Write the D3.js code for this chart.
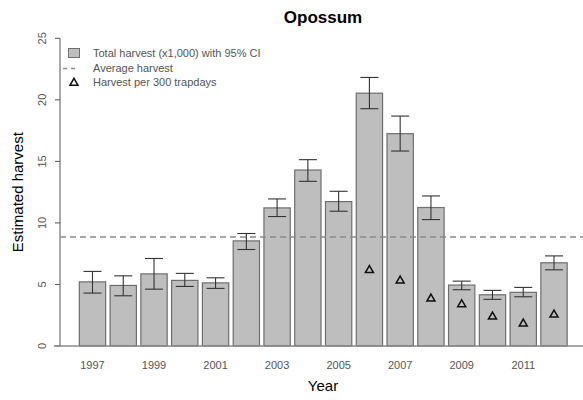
<!DOCTYPE html>
<html lang="en-US">
<head>
<meta charset="UTF-8">
<title>Opossum</title>
<script src="https://d3js.org/d3.v7.min.js"></script>
<style>
  body { margin: 0; background: #fff; }
  text { font-family: "Liberation Sans", Arial, Helvetica, sans-serif; }
  .bar { fill: #bebebe; stroke: #6e6e6e; stroke-width: 1.2px; }
  .err { stroke: #333; stroke-width: 1.1px; fill: none; }
  .avg { stroke: #8a8a8a; stroke-width: 1.5px; stroke-dasharray: 6,4; fill: none; }
  .tri { fill: none; stroke: #111; stroke-width: 1.5px; }
  .tick-lab { fill: #555; font-size: 11px; }
</style>
</head>
<body>
<script>

// data
var years   = [1997,1998,1999,2000,2001,2002,2003,2004,2005,2006,2007,2008,2009,2010,2011,2012];
var harvest = [5.21,4.92,5.86,5.33,5.13,8.54,11.22,14.30,11.73,20.54,17.25,11.25,4.95,4.16,4.36,6.76];
var ciLow   = [4.30,4.08,4.62,4.84,4.68,7.84,10.52,13.38,10.95,19.28,15.84,10.27,4.57,3.79,4.00,6.19];
var ciHigh  = [6.06,5.70,7.11,5.90,5.54,9.14,11.95,15.14,12.57,21.82,18.68,12.19,5.27,4.52,4.76,7.32];
var trapYears = [2006,2007,2008,2009,2010,2011,2012];
var perTrap   = [6.16,5.30,3.84,3.38,2.38,1.81,2.54];
var avgHarvest = 8.85;
var yTicks = [0,5,10,15,20,25];
var xLabels = [1997,1999,2001,2003,2005,2007,2009,2011];

var width = 583, height = 400;
var plotLeft = 60, plotRight = 586, plotTop = 38.3, plotBottom = 346;

var x = d3.scaleBand()
    .domain(years)
    .range([77.1, 569.4])
    .paddingInner(0.145)
    .paddingOuter(0.0725);

var y = d3.scaleLinear()
    .domain([0, 25])
    .range([plotBottom, plotTop]);

var svg = d3.select("body").append("svg")
    .attr("width", width)
    .attr("height", height);

// title
svg.append("text")
    .attr("x", (plotLeft + plotRight) / 2)
    .attr("y", 23)
    .attr("text-anchor", "middle")
    .style("font-weight", "bold")
    .style("font-size", "17px")
    .text("Opossum");

// y axis
var ya = svg.append("g").attr("transform", "translate(" + plotLeft + ",0)");
ya.append("line")
    .attr("y1", y(0)).attr("y2", y(25))
    .attr("stroke", "#555");
ya.selectAll(".yt").data(yTicks).enter().append("line")
    .attr("x1", -5).attr("x2", 0)
    .attr("y1", function(d) { return y(d); })
    .attr("y2", function(d) { return y(d); })
    .attr("stroke", "#555");
ya.selectAll(".yl").data(yTicks).enter().append("text")
    .attr("class", "tick-lab")
    .attr("transform", function(d) { return "translate(-14," + y(d) + ") rotate(-90)"; })
    .attr("text-anchor", "middle")
    .text(function(d) { return d; });

svg.append("text")
    .attr("transform", "translate(23," + ((plotTop + plotBottom) / 2) + ") rotate(-90)")
    .attr("text-anchor", "middle")
    .style("font-size", "15px")
    .text("Estimated harvest");

// bars
svg.selectAll(".bar").data(years).enter().append("rect")
    .attr("class", "bar")
    .attr("x", function(d) { return x(d); })
    .attr("width", x.bandwidth())
    .attr("y", function(d, i) { return y(harvest[i]); })
    .attr("height", function(d, i) { return y(0) - y(harvest[i]); });

// baseline
svg.append("line")
    .attr("x1", 54).attr("x2", width)
    .attr("y1", y(0)).attr("y2", y(0))
    .attr("stroke", "#888").attr("stroke-width", 1.3);

// average line
svg.append("line")
    .attr("class", "avg")
    .attr("x1", plotLeft).attr("x2", width)
    .attr("y1", y(avgHarvest)).attr("y2", y(avgHarvest));

// error bars
var cap = 9;
var eb = svg.selectAll(".eb").data(years).enter().append("g");
eb.append("line").attr("class", "err")
    .attr("x1", function(d) { return x(d) + x.bandwidth() / 2; })
    .attr("x2", function(d) { return x(d) + x.bandwidth() / 2; })
    .attr("y1", function(d, i) { return y(ciLow[i]); })
    .attr("y2", function(d, i) { return y(ciHigh[i]); });
eb.append("line").attr("class", "err")
    .attr("x1", function(d) { return x(d) + x.bandwidth() / 2 - cap; })
    .attr("x2", function(d) { return x(d) + x.bandwidth() / 2 + cap; })
    .attr("y1", function(d, i) { return y(ciLow[i]); })
    .attr("y2", function(d, i) { return y(ciLow[i]); });
eb.append("line").attr("class", "err")
    .attr("x1", function(d) { return x(d) + x.bandwidth() / 2 - cap; })
    .attr("x2", function(d) { return x(d) + x.bandwidth() / 2 + cap; })
    .attr("y1", function(d, i) { return y(ciHigh[i]); })
    .attr("y2", function(d, i) { return y(ciHigh[i]); });

// harvest per trapdays
var tri = d3.symbol().type(d3.symbolTriangle).size(28);
svg.selectAll(".tri").data(trapYears).enter().append("path")
    .attr("class", "tri")
    .attr("d", tri)
    .attr("transform", function(d, i) {
        return "translate(" + (x(d) + x.bandwidth() / 2) + "," + y(perTrap[i]) + ")";
    });

// x labels
svg.selectAll(".xl").data(xLabels).enter().append("text")
    .attr("class", "tick-lab")
    .attr("x", function(d) { return x(d) + x.bandwidth() / 2; })
    .attr("y", 369)
    .attr("text-anchor", "middle")
    .text(function(d) { return d; });

svg.append("text")
    .attr("x", (plotLeft + plotRight) / 2)
    .attr("y", 391)
    .attr("text-anchor", "middle")
    .style("font-size", "15px")
    .text("Year");

// legend
var lg = svg.append("g");
lg.append("rect")
    .attr("x", 68.5).attr("y", 48.5).attr("width", 11).attr("height", 9)
    .attr("fill", "#bebebe").attr("stroke", "#6e6e6e");
lg.append("line").attr("class", "avg")
    .attr("x1", 63).attr("x2", 79).attr("y1", 68.5).attr("y2", 68.5)
    .style("stroke-dasharray", "4,4");
lg.append("path").attr("class", "tri").attr("d", tri)
    .attr("transform", "translate(74,83)");
var legendText = ["Total harvest (x1,000) with 95% CI", "Average harvest", "Harvest per 300 trapdays"];
lg.selectAll(".lt").data(legendText).enter().append("text")
    .attr("x", 93)
    .attr("y", function(d, i) { return 57 + i * 14.5; })
    .style("font-size", "11px")
    .style("fill", "#555")
    .text(function(d) { return d; });

</script>
</body>
</html>
